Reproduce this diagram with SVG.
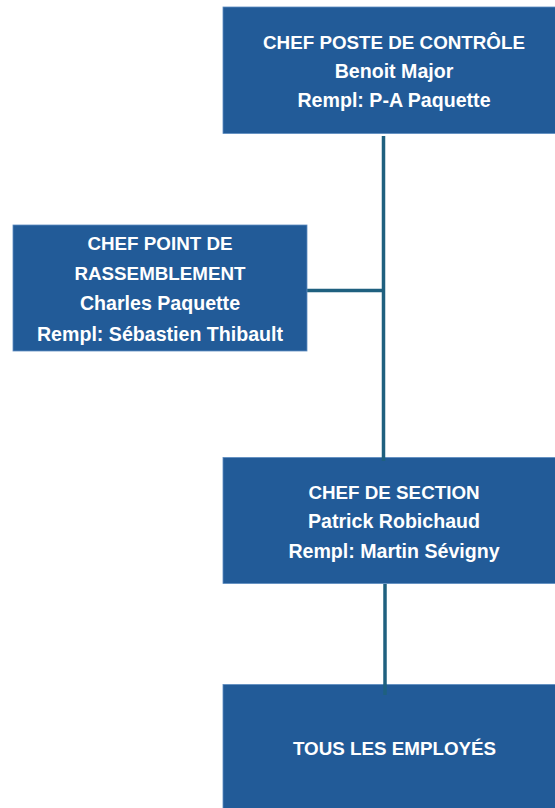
<svg xmlns="http://www.w3.org/2000/svg" width="555" height="808" viewBox="0 0 555 808">
  <style>
    .box { fill: #225b98; stroke: #5d8cc0; stroke-width: 0.8; }
    .lbl { font-family: "Liberation Sans", Arial, sans-serif; font-weight: bold; font-size: 18.8px; fill: #ffffff; text-anchor: middle; }
    .name { font-size: 19.6px; }
    .link { stroke: #1f607f; stroke-width: 3.5; fill: none; }
  </style>
  <rect width="555" height="808" fill="#ffffff"/>

  <!-- connectors -->
  <g id="connectors">
    <line class="link" x1="383.5" y1="136" x2="383.5" y2="461"/>
    <line class="link" x1="307" y1="290.5" x2="383.5" y2="290.5"/>
    <line class="link" x1="385" y1="584" x2="385" y2="695"/>
  </g>

  <g id="chef-poste-controle">
    <rect class="box" x="223" y="7" width="342" height="126.5"/>
    <text class="lbl" x="394" y="49">CHEF POSTE DE CONTRÔLE</text>
    <text class="lbl name" x="394" y="78">Benoit Major</text>
    <text class="lbl name" x="394" y="107">Rempl: P-A Paquette</text>
  </g>

  <g id="chef-point-rassemblement">
    <rect class="box" x="13" y="225" width="294" height="126"/>
    <text class="lbl" x="160" y="250">CHEF POINT DE</text>
    <text class="lbl" x="160" y="280">RASSEMBLEMENT</text>
    <text class="lbl name" x="160" y="310">Charles Paquette</text>
    <text class="lbl name" x="160" y="340.5">Rempl: Sébastien Thibault</text>
  </g>

  <g id="chef-section">
    <rect class="box" x="223" y="457.5" width="342" height="126"/>
    <text class="lbl" x="394" y="499">CHEF DE SECTION</text>
    <text class="lbl name" x="394" y="528">Patrick Robichaud</text>
    <text class="lbl name" x="394" y="557.5">Rempl: Martin Sévigny</text>
  </g>

  <g id="tous-employes">
    <rect class="box" x="223" y="684.5" width="342" height="130"/>
    <text class="lbl" x="394.5" y="755">TOUS LES EMPLOYÉS</text>
  </g>

  <!-- link ends drawn over the box tops -->
  <line class="link" x1="385" y1="684" x2="385" y2="695"/>
  <line class="link" x1="383.5" y1="457" x2="383.5" y2="461"/>
</svg>
